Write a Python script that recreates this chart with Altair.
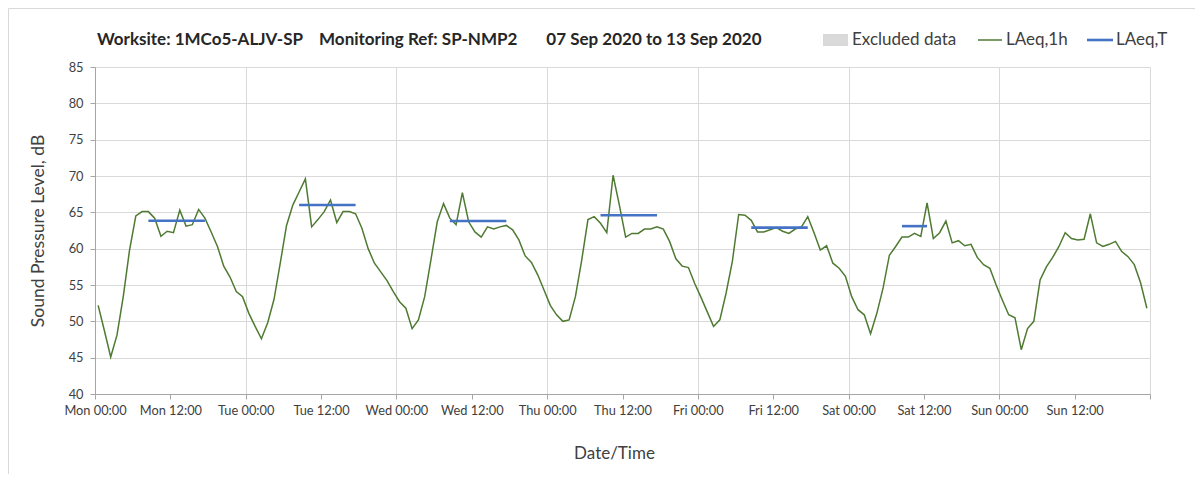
import altair as alt
import pandas as pd

# Hourly LAeq,1h values, Monday 00:00 .. Sunday 23:00 (168 hours)
laeq_1h = [
    52.2, 48.7, 45.1, 48.1, 53.4, 59.8, 64.5, 65.1, 65.1, 64.2, 61.7, 62.4,
    62.2, 65.3, 63.1, 63.3, 65.4, 64.2, 62.3, 60.3, 57.6, 56.1, 54.1, 53.4,
    51.1, 49.3, 47.6, 49.8, 53.0, 58.0, 63.2, 66.0, 67.8, 69.6, 63.0, 64.0,
    65.1, 66.7, 63.6, 65.1, 65.1, 64.8, 62.8, 60.0, 58.0, 56.8, 55.6, 54.1,
    52.7, 51.8, 49.0, 50.2, 53.4, 58.5, 63.7, 66.2, 64.2, 63.3, 67.7, 63.7,
    62.3, 61.6, 63.0, 62.7, 63.0, 63.2, 62.6, 61.2, 59.0, 58.1, 56.4, 54.3,
    52.2, 50.9, 50.0, 50.2, 53.4, 58.4, 64.0, 64.4, 63.5, 62.2, 70.1, 66.0,
    61.6, 62.1, 62.1, 62.7, 62.7, 63.0, 62.7, 61.0, 58.6, 57.6, 57.4, 55.2,
    53.3, 51.3, 49.3, 50.2, 53.9, 58.3, 64.7, 64.6, 63.9, 62.3, 62.3, 62.6,
    62.9, 62.4, 62.1, 62.7, 63.0, 64.4, 62.2, 59.8, 60.4, 58.0, 57.3, 56.2,
    53.4, 51.6, 50.9, 48.3, 51.1, 54.6, 59.1, 60.3, 61.6, 61.6, 62.1, 61.7,
    66.3, 61.4, 62.2, 63.8, 60.8, 61.1, 60.4, 60.6, 58.8, 57.8, 57.3, 55.0,
    52.9, 50.9, 50.5, 46.1, 49.0, 50.0, 55.7, 57.5, 58.8, 60.3, 62.2, 61.4,
    61.2, 61.3, 64.8, 60.8, 60.3, 60.6, 61.0, 59.6, 58.9, 57.8, 55.3, 51.8,
]
hours = list(range(len(laeq_1h)))

# LAeq,T period values (start hour, end hour, level)
lt_start = [8, 32, 56, 80, 104, 128]
lt_end = [17, 41, 65, 89, 113, 132]
lt_level = [63.85, 66.0, 63.8, 64.6, 62.9, 63.1]

day_names = ["Mon", "Tue", "Wed", "Thu", "Fri", "Sat", "Sun"]
x_tick_values = list(range(0, 169, 12))
y_tick_values = list(range(40, 86, 5))

title_text = ("Worksite: 1MCo5-ALJV-SP\u00a0\u00a0\u00a0\u00a0Monitoring Ref: SP-NMP2"
              "\u00a0\u00a0\u00a0\u00a0\u00a0\u00a0\u00a007 Sep 2020 to 13 Sep 2020")

FONT = "Lato"
GREEN = "#4e7a32"
BLUE = "#4472c4"
GRID = "#d9d9d9"
AXIS = "#a6a6a6"
TXT = "#404040"

df = pd.DataFrame({"hour": hours, "laeq": laeq_1h})
df["x"] = df["hour"] + 0.5
dt = pd.DataFrame({"s": lt_start, "e": lt_end, "lv": lt_level})
dt["xs"] = dt["s"] + 0.5
dt["xe"] = dt["e"] + 0.5

W, H = 1055, 327

days_js = "[" + ",".join("'%s'" % d for d in day_names) + "]"
label_expr = ("datum.value >= 168 ? '' : " + days_js +
              "[floor(datum.value / 24)] + (datum.value % 24 == 0 ? ' 00:00' : ' 12:00')")

x_scale = alt.Scale(domain=[0, 168], nice=False, zero=False)
y_scale = alt.Scale(domain=[40, 85], nice=False, zero=False)


def x_axis():
    return alt.Axis(
        values=x_tick_values, labelExpr=label_expr, title="Date/Time",
        grid=True, gridColor=GRID, gridWidth=1,
        gridOpacity={"condition": {"test": "datum.value % 24 === 0", "value": 1}, "value": 0},
        domainColor=AXIS, tickColor=AXIS, tickSize=5, labelFontSize=12.8,
        labelColor=TXT, labelFont=FONT, labelPadding=5, labelFlush=False,
        labelOverlap=False,
        titleFont=FONT, titleFontSize=17, titleFontWeight="normal", titleColor=TXT,
        titleX=519, titleY=59, titleBaseline="middle", titleAnchor="middle",
    )


def y_axis():
    return alt.Axis(
        values=y_tick_values, title="Sound Pressure Level, dB",
        grid=True, gridColor=GRID, gridWidth=1,
        domainColor=AXIS, tickColor=AXIS, tickSize=5, labelFontSize=12.8,
        labelColor=TXT, labelFont=FONT, labelPadding=7, labelOverlap=False,
        labelFlush=False,
        titleFont=FONT, titleFontSize=17.5, titleFontWeight="normal", titleColor=TXT,
        titleX=-57, titleY=H / 2, titleBaseline="middle", titleAngle=270, titleAlign="center",
    )


line = alt.Chart(df).mark_line(color=GREEN, strokeWidth=1.5).encode(
    x=alt.X("x:Q", scale=x_scale, axis=x_axis()),
    y=alt.Y("laeq:Q", scale=y_scale, axis=y_axis()),
)

lt = alt.Chart(dt).mark_rule(color=BLUE, strokeWidth=2.6, strokeCap="butt").encode(
    x=alt.X("xs:Q", scale=x_scale, axis=x_axis()),
    x2="xe:Q",
    y=alt.Y("lv:Q", scale=y_scale, axis=y_axis()),
)

one = pd.DataFrame({"a": [0]})
leg_y = -27
legend_layers = [
    # faint chart-area frame
    alt.Chart(one).mark_rule(color="#d9d9d9", strokeWidth=1).encode(
        x=alt.value(-86.5), x2=alt.value(1110), y=alt.value(-58.5)),
    alt.Chart(one).mark_rule(color="#d9d9d9", strokeWidth=1).encode(
        x=alt.value(-86.5), y=alt.value(-58.5), y2=alt.value(420)),
    alt.Chart(one).mark_rect(color="#d9d9d9").encode(
        x=alt.value(728), x2=alt.value(753), y=alt.value(leg_y - 6), y2=alt.value(leg_y + 6)),
    alt.Chart(one).mark_text(text="Excluded data", align="left", baseline="middle",
                             font=FONT, fontSize=17, color=TXT).encode(
        x=alt.value(757), y=alt.value(leg_y)),
    alt.Chart(one).mark_rule(color=GREEN, strokeWidth=1.5).encode(
        x=alt.value(883), x2=alt.value(907), y=alt.value(leg_y)),
    alt.Chart(one).mark_text(text="LAeq,1h", align="left", baseline="middle",
                             font=FONT, fontSize=17, color=TXT).encode(
        x=alt.value(911), y=alt.value(leg_y)),
    alt.Chart(one).mark_rule(color=BLUE, strokeWidth=2.6).encode(
        x=alt.value(992), x2=alt.value(1018), y=alt.value(leg_y)),
    alt.Chart(one).mark_text(text="LAeq,T", align="left", baseline="middle",
                             font=FONT, fontSize=17, color=TXT).encode(
        x=alt.value(1021), y=alt.value(leg_y)),
    alt.Chart(one).mark_text(text=title_text, align="left", baseline="middle",
                             font=FONT, fontSize=17, fontWeight="bold", color="#262626").encode(
        x=alt.value(2), y=alt.value(leg_y)),
]

chart = alt.layer(line, lt, *legend_layers).properties(
    width=W, height=H,
    autosize=alt.AutoSizeParams(type="none"),
    padding={"left": 87, "top": 59, "right": 45, "bottom": 80},
    background="white",
).configure_view(stroke=None)

chart.save("out.html", embed_options={"renderer": "svg", "actions": False})
